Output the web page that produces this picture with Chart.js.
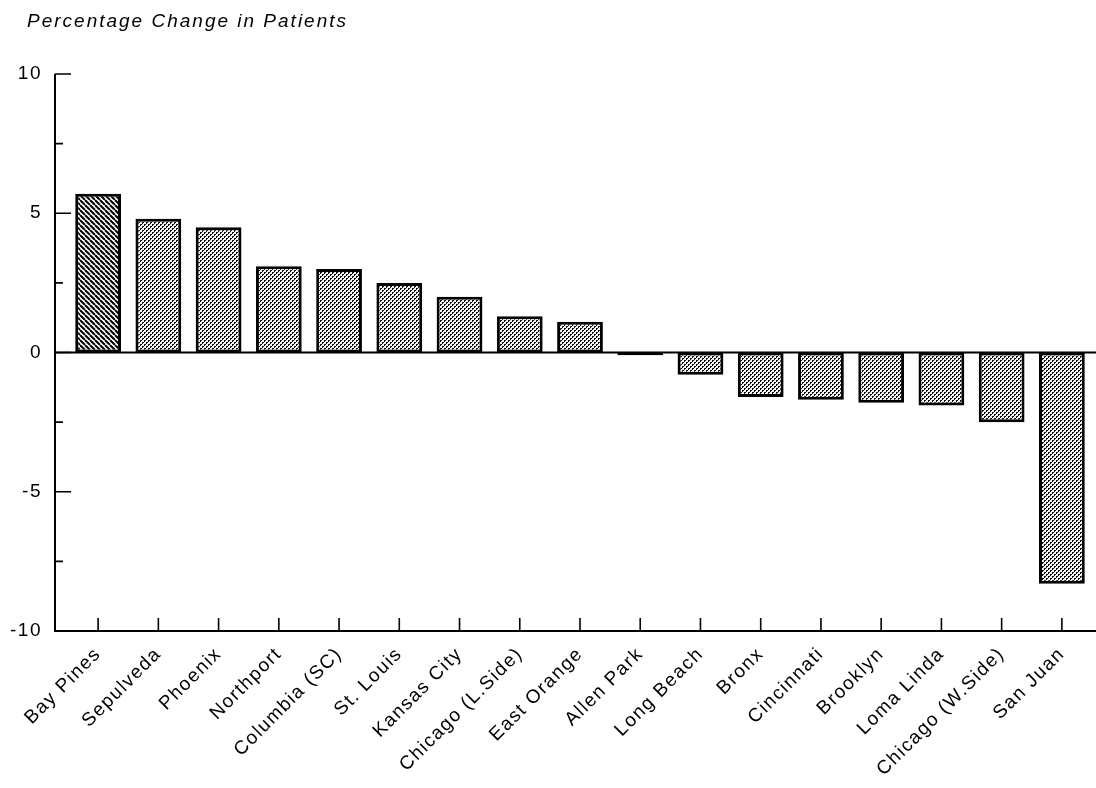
<!DOCTYPE html>
<html>
<head>
<meta charset="utf-8">
<script src="https://cdn.jsdelivr.net/npm/chart.js@4.4.1/dist/chart.umd.min.js"></script>
<style>
  html, body { margin: 0; padding: 0; background: #fff; }
  #chart { display: block; }
</style>
</head>
<body>
<canvas id="chart" width="1096" height="788"></canvas>
<script>
// values
const titleText = "Percentage Change in Patients";
const hospitals = [
  "Bay Pines", "Sepulveda", "Phoenix", "Northport", "Columbia (SC)",
  "St. Louis", "Kansas City", "Chicago (L.Side)", "East Orange", "Allen Park",
  "Long Beach", "Bronx", "Cincinnati", "Brooklyn", "Loma Linda",
  "Chicago (W.Side)", "San Juan"
];
const pctChange = [5.7, 4.8, 4.5, 3.1, 3.0, 2.5, 2.0, 1.3, 1.1, -0.1,
                   -0.8, -1.6, -1.7, -1.8, -1.9, -2.5, -8.3];
const highlighted = ["Bay Pines"];
const majorTicks = [-10, -5, 0, 5, 10];
const minorTicks = [-7.5, -2.5, 2.5, 7.5];

Chart.defaults.font.family = '"Liberation Sans", Arial, Helvetica, sans-serif';
Chart.defaults.color = "#000";

function stipple() {
  const c = document.createElement("canvas");
  c.width = 4; c.height = 4;
  const g = c.getContext("2d");
  g.fillStyle = "#f4f4f4";
  g.fillRect(0, 0, 4, 4);
  g.fillStyle = "#111";
  g.fillRect(0, 0, 2, 1);
  g.fillRect(2, 2, 2, 1);
  g.fillRect(0, 1, 1, 1);
  g.fillRect(2, 3, 1, 1);
  return g.createPattern(c, "repeat");
}

function hatch() {
  const s = 5;
  const c = document.createElement("canvas");
  c.width = s; c.height = s;
  const g = c.getContext("2d");
  g.fillStyle = "#fff";
  g.fillRect(0, 0, s, s);
  g.strokeStyle = "#000";
  g.lineWidth = 2;
  g.beginPath();
  for (const k of [-s, 0, s]) {
    g.moveTo(k, 0);
    g.lineTo(k + s, s);
  }
  g.stroke();
  return g.createPattern(c, "repeat");
}

const dotFill = stipple();
const lineFill = hatch();

// axis frame drawn the way the original plot has it: ticks point inward
const frame = {
  id: "frame",
  beforeDraw(chart) {
    chart.ctx.letterSpacing = "1.5px";
  },
  beforeDatasetsDraw(chart) {
    const { ctx, scales: { y } } = chart;
    const ax = chart.chartArea.left - 13;
    ctx.save();
    ctx.strokeStyle = "#000";
    ctx.lineWidth = 2;
    const y0 = y.getPixelForValue(0);
    ctx.beginPath();
    ctx.moveTo(ax, y0);
    ctx.lineTo(chart.width, y0);
    ctx.stroke();
    ctx.restore();
  },
  afterDraw(chart) {
    const { ctx, scales: { x, y } } = chart;
    const ax = chart.chartArea.left - 13;
    const top = y.getPixelForValue(10);
    const bottom = y.getPixelForValue(-10);
    ctx.save();
    ctx.strokeStyle = "#000";
    ctx.lineWidth = 2;
    ctx.beginPath();
    ctx.moveTo(ax, top);
    ctx.lineTo(ax, bottom);
    ctx.lineTo(chart.width, bottom);
    ctx.stroke();

    ctx.lineWidth = 1.6;
    ctx.beginPath();
    majorTicks.forEach(v => {
      const py = y.getPixelForValue(v);
      ctx.moveTo(ax, py);
      ctx.lineTo(ax + 16, py);
    });
    minorTicks.forEach(v => {
      const py = y.getPixelForValue(v);
      ctx.moveTo(ax, py);
      ctx.lineTo(ax + 8, py);
    });
    hospitals.forEach((h, i) => {
      const px = x.getPixelForValue(i);
      ctx.moveTo(px, bottom);
      ctx.lineTo(px, bottom - 13);
    });
    ctx.stroke();

    ctx.letterSpacing = "2px";
    ctx.font = 'italic 19px "Liberation Sans", Arial, sans-serif';
    ctx.fillStyle = "#000";
    ctx.textBaseline = "middle";
    ctx.textAlign = "left";
    ctx.fillText(titleText, 27, 22);
    ctx.restore();
  }
};

new Chart(document.getElementById("chart"), {
  type: "bar",
  data: {
    labels: hospitals,
    datasets: [{
      data: pctChange,
      backgroundColor: hospitals.map(h => highlighted.includes(h) ? lineFill : dotFill),
      borderColor: "#000",
      borderWidth: 3,
      borderSkipped: false,
      barPercentage: 0.76,
      categoryPercentage: 1
    }]
  },
  options: {
    responsive: false,
    animation: false,
    layout: { padding: { left: 0, top: 74, right: 4, bottom: 0 } },
    plugins: {
      legend: { display: false },
      tooltip: { enabled: false }
    },
    scales: {
      x: {
        grid: { display: false, drawTicks: false },
        border: { display: false },
        ticks: {
          autoSkip: false,
          minRotation: 45,
          maxRotation: 45,
          padding: 12,
          font: { size: 19 }
        },
        afterFit(s) { s.height = 157; }
      },
      y: {
        min: -10,
        max: 10,
        afterBuildTicks(s) { s.ticks = majorTicks.map(v => ({ value: v })); },
        grid: { display: false, drawTicks: false },
        border: { display: false },
        ticks: { padding: 26, font: { size: 19 } },
        afterFit(s) { s.width = 68; }
      }
    }
  },
  plugins: [frame]
});
</script>
</body>
</html>
